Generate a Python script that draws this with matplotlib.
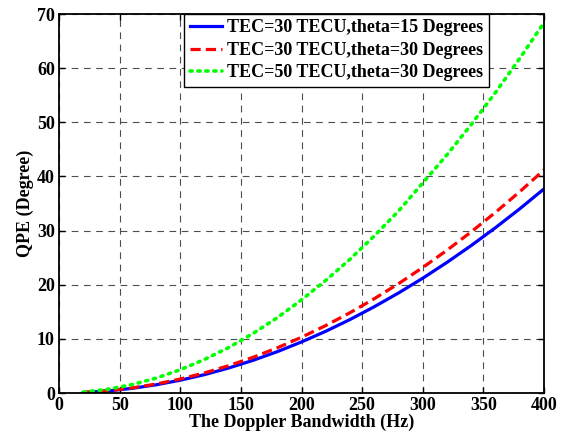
import numpy as np
import matplotlib
matplotlib.use('Agg')
import matplotlib.pyplot as plt

# Doppler bandwidth (Hz) and QPE (degree)
bandwidth = [20, 40, 60, 80, 100, 120, 140, 160, 180, 200,
             220, 240, 260, 280, 300, 320, 340, 360, 380, 400]
qpe_tec30_th15 = [0.09, 0.38, 0.85, 1.51, 2.36, 3.39, 4.62, 6.03, 7.63, 9.43,
                  11.4, 13.57, 15.93, 18.47, 21.2, 24.13, 27.24, 30.54, 34.02, 37.7]
qpe_tec30_th30 = [0.10, 0.41, 0.93, 1.65, 2.58, 3.71, 5.05, 6.59, 8.34, 10.3,
                  12.46, 14.83, 17.41, 20.19, 23.18, 26.37, 29.77, 33.37, 37.18, 41.2]
qpe_tec50_th30 = [0.17, 0.68, 1.54, 2.74, 4.3, 6.2, 8.4, 11.0, 13.9, 17.2,
                  20.8, 24.7, 29.0, 33.6, 38.8, 44.0, 49.6, 55.5, 61.8, 68.4]

labels = ['TEC=30 TECU,theta=15 Degrees',
          'TEC=30 TECU,theta=30 Degrees',
          'TEC=50 TECU,theta=30 Degrees']

plt.rcParams['font.family'] = ['Liberation Serif', 'DejaVu Serif']
plt.rcParams['font.weight'] = 'bold'

fig = plt.figure(figsize=(5.65, 4.36), dpi=100)
ax = fig.add_axes([59 / 565, 1 - 393 / 436, 485 / 565, 379 / 436])

ax.plot(bandwidth, qpe_tec30_th15, color='#0000ff', lw=2.3, label=labels[0])
ax.plot(bandwidth, qpe_tec30_th30, color='#ff0000', lw=2.3, linestyle=(0, (3.2, 1.6)), label=labels[1])
ax.plot(bandwidth, qpe_tec50_th30, color='#00ff00', lw=2.6, linestyle=(0, (0.6, 1.6)),
        dash_capstyle='round', label=labels[2])

ax.set_xlim(0, 400)
ax.set_ylim(0, 70)
ax.set_xticks(np.arange(0, 401, 50))
ax.set_yticks(np.arange(0, 71, 10))
ax.tick_params(direction='in', top=True, right=True, length=4, width=1, labelsize=13, pad=3)
for lbl in ax.get_xticklabels() + ax.get_yticklabels():
    lbl.set_fontweight('bold')
for sp in ax.spines.values():
    sp.set_linewidth(1.3)

ax.grid(True, color='0.3', linestyle=(0, (6, 5)), linewidth=0.8)

ax.set_xlabel('The Doppler Bandwidth (Hz)', fontsize=13, fontweight='bold', labelpad=0)
ax.set_ylabel('QPE (Degree)', fontsize=13, fontweight='bold', labelpad=2)

leg = ax.legend(loc='upper left', bbox_to_anchor=(0.258, 1.0),
                prop={'weight': 'bold', 'size': 13}, frameon=True, fancybox=False,
                handlelength=1.8, handletextpad=0.3, borderpad=0.3, labelspacing=0.3,
                borderaxespad=0)
leg.get_frame().set_edgecolor('black')
leg.get_frame().set_linewidth(1.0)
leg.get_frame().set_alpha(1)

fig.savefig('out.png', dpi=100)
